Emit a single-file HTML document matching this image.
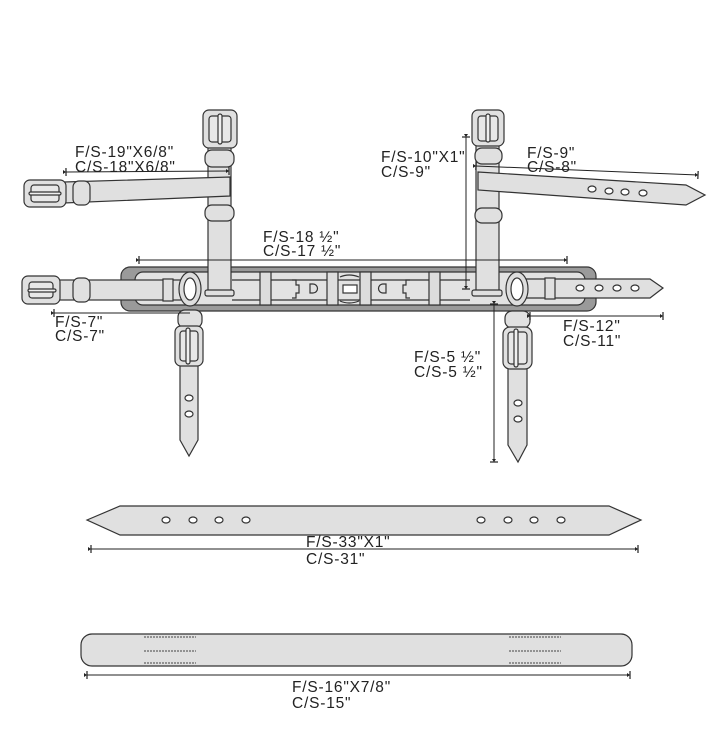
<!DOCTYPE html>
<html><head><meta charset="utf-8"><style>
html,body{margin:0;padding:0;background:#fff;}
svg{display:block;}
text{font-family:"Liberation Sans",Arial,sans-serif;font-size:15.5px;fill:#222;letter-spacing:0.8px;}
</style></head><body>
<svg width="711" height="729" viewBox="0 0 711 729" xmlns="http://www.w3.org/2000/svg">
<defs>
<marker id="t" viewBox="0 0 6 8" refX="3" refY="4" markerWidth="6" markerHeight="8" orient="auto"><path d="M3 0V8" stroke="#222" stroke-width="1.2"/><path d="M3 4L0 2V6Z" fill="#222"/></marker>
</defs>
<g stroke="#333" stroke-width="1.2" fill="#e0e0e0">
<rect x="121" y="267" width="475" height="44" rx="9" fill="#9a9a9a"/>
<rect x="135" y="272" width="450" height="33" rx="8" fill="#e2e2e2"/>
<line x1="232" y1="280" x2="470" y2="280"/>
<line x1="232" y1="300" x2="470" y2="300"/>
<rect x="260" y="272" width="11" height="33" fill="#ddd"/>
<rect x="327" y="272" width="11" height="33" fill="#ddd"/>
<rect x="360" y="272" width="11" height="33" fill="#ddd"/>
<rect x="429" y="272" width="11" height="33" fill="#ddd"/>
<path d="M292 280h4v5h3v8h-3v5h-4" fill="none"/>
<path d="M410 280h-4v5h-3v8h3v5h4" fill="none"/>
<path d="M310 284h3a4 4 0 0 1 0 9h-3z" fill="none"/>
<path d="M386 284h-3a4 4 0 0 0 0 9h3z" fill="none"/>
<rect x="343" y="285" width="14" height="8" fill="#fff"/>
<path d="M340 277q9-4 19 0M340 301q9 4 19 0" fill="none"/>
<rect x="58" y="280" width="132" height="20" fill="#e0e0e0"/>
<rect x="22" y="276" width="38" height="28" rx="6"/>
<rect x="29" y="282" width="24" height="16" rx="3" fill="#e8e8e8"/>
<rect x="28" y="289" width="28" height="3" rx="1.5" fill="#f0f0f0"/>
<rect x="73" y="278" width="17" height="24" rx="6"/>
<rect x="163" y="279" width="10" height="22"/>
<rect x="208" y="140" width="23" height="152"/>
<rect x="205" y="290" width="29" height="6" rx="2"/>
<rect x="203" y="110" width="34" height="38" rx="6"/>
<rect x="209" y="116" width="22" height="26" rx="3" fill="#e8e8e8"/>
<rect x="218" y="114" width="4" height="30" rx="2" fill="#f0f0f0"/>
<rect x="205" y="150" width="29" height="17" rx="7"/>
<rect x="205" y="205" width="29" height="16" rx="7"/>
<path d="M64 182L230 177V196L64 203Z"/>
<rect x="24" y="180" width="42" height="27" rx="6"/>
<rect x="31" y="185" width="28" height="17" rx="3" fill="#e8e8e8"/>
<rect x="29" y="192" width="32" height="3" rx="1.5" fill="#f0f0f0"/>
<rect x="73" y="181" width="17" height="24" rx="6"/>
<ellipse cx="190" cy="289" rx="11" ry="17" fill="#ddd"/>
<ellipse cx="190" cy="289" rx="6" ry="11" fill="#fff"/>
<path d="M180 360V440L189 456L198 440V360Z"/>
<rect x="178" y="310" width="24" height="18" rx="7"/>
<rect x="175" y="326" width="28" height="40" rx="6"/>
<rect x="180" y="331" width="18" height="30" rx="3" fill="#e8e8e8"/>
<rect x="186" y="328" width="4" height="36" rx="2" fill="#f0f0f0"/>
<ellipse cx="189" cy="398" rx="4" ry="3" fill="#fff"/>
<ellipse cx="189" cy="414" rx="4" ry="3" fill="#fff"/>
<rect x="476" y="140" width="23" height="152"/>
<rect x="472" y="290" width="30" height="6" rx="2"/>
<rect x="472" y="110" width="32" height="36" rx="6"/>
<rect x="478" y="116" width="20" height="25" rx="3" fill="#e8e8e8"/>
<rect x="486" y="114" width="4" height="28" rx="2" fill="#f0f0f0"/>
<rect x="475" y="148" width="27" height="16" rx="7"/>
<rect x="475" y="208" width="27" height="15" rx="7"/>
<path d="M478 172L686 185L705 195L686 205L478 190Z"/>
<ellipse cx="592" cy="189" rx="4" ry="3" fill="#fff"/>
<ellipse cx="609" cy="191" rx="4" ry="3" fill="#fff"/>
<ellipse cx="625" cy="192" rx="4" ry="3" fill="#fff"/>
<ellipse cx="643" cy="193" rx="4" ry="3" fill="#fff"/>
<path d="M518 279H650L663 288L650 298H518Z"/>
<rect x="545" y="278" width="10" height="21"/>
<ellipse cx="580" cy="288" rx="4" ry="3" fill="#fff"/>
<ellipse cx="599" cy="288" rx="4" ry="3" fill="#fff"/>
<ellipse cx="617" cy="288" rx="4" ry="3" fill="#fff"/>
<ellipse cx="635" cy="288" rx="4" ry="3" fill="#fff"/>
<ellipse cx="517" cy="289" rx="11" ry="17" fill="#ddd"/>
<ellipse cx="517" cy="289" rx="6" ry="11" fill="#fff"/>
<path d="M508 360V445L518 462L527 445V360Z"/>
<rect x="505" y="311" width="25" height="17" rx="7"/>
<rect x="503" y="327" width="29" height="42" rx="7"/>
<rect x="508" y="332" width="19" height="32" rx="3" fill="#e8e8e8"/>
<rect x="514" y="329" width="4" height="38" rx="2" fill="#f0f0f0"/>
<ellipse cx="518" cy="403" rx="4" ry="3" fill="#fff"/>
<ellipse cx="518" cy="419" rx="4" ry="3" fill="#fff"/>
<path d="M87 520L120 506H609L641 520L609 535H120Z"/>
<ellipse cx="166" cy="520" rx="4" ry="3" fill="#fff"/>
<ellipse cx="193" cy="520" rx="4" ry="3" fill="#fff"/>
<ellipse cx="219" cy="520" rx="4" ry="3" fill="#fff"/>
<ellipse cx="246" cy="520" rx="4" ry="3" fill="#fff"/>
<ellipse cx="481" cy="520" rx="4" ry="3" fill="#fff"/>
<ellipse cx="508" cy="520" rx="4" ry="3" fill="#fff"/>
<ellipse cx="534" cy="520" rx="4" ry="3" fill="#fff"/>
<ellipse cx="561" cy="520" rx="4" ry="3" fill="#fff"/>
<rect x="81" y="634" width="551" height="32" rx="11"/>
</g>
<g stroke="#444" stroke-width="1" stroke-dasharray="2 1">
<line x1="144" y1="637" x2="196" y2="637"/><line x1="144" y1="651" x2="196" y2="651"/><line x1="144" y1="663" x2="196" y2="663"/>
<line x1="509" y1="637" x2="561" y2="637"/><line x1="509" y1="651" x2="561" y2="651"/><line x1="509" y1="663" x2="561" y2="663"/>
</g>
<g stroke="#222" stroke-width="1" fill="none">
<line x1="66" y1="172" x2="229" y2="171" marker-start="url(#t)" marker-end="url(#t)"/>
<line x1="139" y1="260" x2="567" y2="260" marker-start="url(#t)" marker-end="url(#t)"/>
<line x1="54" y1="313" x2="190" y2="313" marker-start="url(#t)"/>
<line x1="466" y1="137" x2="466" y2="289" marker-start="url(#t)" marker-end="url(#t)"/>
<line x1="476" y1="166" x2="698" y2="175" marker-start="url(#t)" marker-end="url(#t)"/>
<line x1="530" y1="316" x2="663" y2="316" marker-start="url(#t)" marker-end="url(#t)"/>
<line x1="494" y1="304" x2="494" y2="462" marker-start="url(#t)" marker-end="url(#t)"/>
<line x1="91" y1="549" x2="638" y2="549" marker-start="url(#t)" marker-end="url(#t)"/>
<line x1="87" y1="675" x2="630" y2="675" marker-start="url(#t)" marker-end="url(#t)"/>
</g>
<text x="75" y="157">F/S-19"X6/8"</text><text x="75" y="172">C/S-18"X6/8"</text>
<text x="263" y="242">F/S-18 ½"</text><text x="263" y="256">C/S-17 ½"</text>
<text x="55" y="327">F/S-7"</text><text x="55" y="341">C/S-7"</text>
<text x="381" y="162">F/S-10"X1"</text><text x="381" y="177">C/S-9"</text>
<text x="527" y="158">F/S-9"</text><text x="527" y="172">C/S-8"</text>
<text x="563" y="331">F/S-12"</text><text x="563" y="346">C/S-11"</text>
<text x="414" y="362">F/S-5 ½"</text><text x="414" y="377">C/S-5 ½"</text>
<text x="306" y="547">F/S-33"X1"</text><text x="306" y="564">C/S-31"</text>
<text x="292" y="692">F/S-16"X7/8"</text><text x="292" y="708">C/S-15"</text>
</svg>
</body></html>
